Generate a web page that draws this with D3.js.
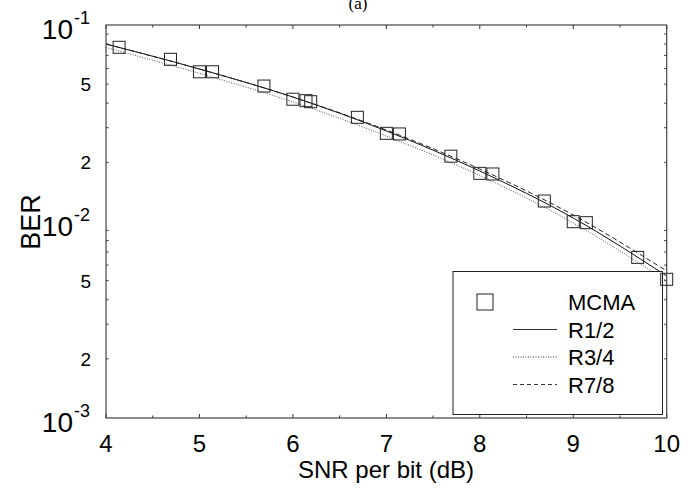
<html>
<head>
<script src="https://d3js.org/d3.v7.min.js"></script>
<style>
body { margin: 0; background: #fff; }
</style>
</head>
<body>
<script type="text/javascript">
// data
var snr = [4, 5, 6, 7, 8, 9, 10];
var berR12 = [0.0800, 0.0597, 0.0430, 0.0289, 0.01807, 0.01042, 0.00528];
var berR34 = [0.0768, 0.0567, 0.0406, 0.0272, 0.01714, 0.00983, 0.00498];
var berR78 = [0.0800, 0.0597, 0.0430, 0.0292, 0.01850, 0.01079, 0.00560];

var mcmaSnr = [4.14, 4.69, 5.0, 5.14, 5.69, 6.0, 6.14, 6.19, 6.69, 7.0, 7.14, 7.69, 8.0, 8.14, 8.69, 9.0, 9.14, 9.69, 10.0];
var mcmaBer = [0.0770, 0.0669, 0.0578, 0.0578, 0.0489, 0.0419, 0.0412, 0.0407, 0.0339, 0.0281, 0.0279, 0.0215, 0.01758, 0.01745, 0.01271, 0.00998, 0.00986, 0.00657, 0.00508];

var xTicks = [4, 5, 6, 7, 8, 9, 10];
var xMinor = [4.5, 5.5, 6.5, 7.5, 8.5, 9.5];
var yLabelTicks = [0.1, 0.05, 0.02, 0.01, 0.005, 0.002, 0.001];
var legendNames = ["MCMA", "R1/2", "R3/4", "R7/8"];

var width = 694, height = 491;
var pLeft = 106, pRight = 666.7, pTop = 25, pBottom = 418;

var svg = d3.select("body")
    .append("svg")
    .attr("width", width)
    .attr("height", height);

var x = d3.scaleLinear().domain([4, 10]).range([pLeft, pRight]);
var y = d3.scaleLog().domain([0.001, 0.1]).range([pBottom, pTop]);

var font = "'Liberation Sans', Arial, sans-serif";

// title (sits right at the top edge, as in the scan)
svg.append("text")
   .attr("x", 358)
   .attr("y", 9)
   .attr("text-anchor", "middle")
   .style("font-family", "'Liberation Serif', 'Times New Roman', serif")
   .style("font-size", "17px")
   .text("(a)");

// minor y ticks (2..9 of each decade)
var yMinor = [];
[0.001, 0.01].forEach(function(d) {
    for (var k = 2; k <= 9; k++) yMinor.push(d * k);
});

var tickColor = "#333";

// ticks on all four sides, pointing inward
xTicks.concat(xMinor).forEach(function(v) {
    var len = xTicks.indexOf(v) >= 0 ? 4 : 2.5;
    svg.append("line").attr("x1", x(v)).attr("x2", x(v))
       .attr("y1", pTop).attr("y2", pTop + len)
       .attr("stroke", tickColor).attr("stroke-width", 1);
    svg.append("line").attr("x1", x(v)).attr("x2", x(v))
       .attr("y1", pBottom).attr("y2", pBottom - len)
       .attr("stroke", tickColor).attr("stroke-width", 1);
});
yMinor.forEach(function(v) {
    svg.append("line").attr("x1", pLeft).attr("x2", pLeft + 2.5)
       .attr("y1", y(v)).attr("y2", y(v))
       .attr("stroke", tickColor).attr("stroke-width", 1);
    svg.append("line").attr("x1", pRight).attr("x2", pRight - 2.5)
       .attr("y1", y(v)).attr("y2", y(v))
       .attr("stroke", tickColor).attr("stroke-width", 1);
});

// the three code-rate curves
var lineGen = d3.line()
    .x(function(d) { return x(d[0]); })
    .y(function(d) { return y(d[1]); })
    .curve(d3.curveMonotoneX);

svg.append("path")
   .datum(d3.zip(snr, berR12))
   .attr("d", lineGen)
   .attr("fill", "none")
   .attr("stroke", "#111")
   .attr("stroke-width", 1);

svg.append("path")
   .datum(d3.zip(snr, berR34))
   .attr("d", lineGen)
   .attr("fill", "none")
   .attr("stroke", "#555")
   .attr("stroke-width", 1)
   .attr("stroke-dasharray", "1,1.5");

svg.append("path")
   .datum(d3.zip(snr, berR78))
   .attr("d", lineGen)
   .attr("fill", "none")
   .attr("stroke", "#222")
   .attr("stroke-width", 1)
   .attr("stroke-dasharray", "5,3");

// frame
svg.append("rect")
   .attr("x", pLeft)
   .attr("y", pTop)
   .attr("width", pRight - pLeft)
   .attr("height", pBottom - pTop)
   .attr("fill", "none")
   .attr("stroke", "#444")
   .attr("stroke-width", 1.2);

// legend box
var lg = svg.append("g");
lg.append("rect")
  .attr("x", 453)
  .attr("y", 271.5)
  .attr("width", 209.5)
  .attr("height", 143)
  .attr("fill", "#fff")
  .attr("stroke", "#222")
  .attr("stroke-width", 1);

lg.append("rect")
  .attr("x", 477)
  .attr("y", 294)
  .attr("width", 16)
  .attr("height", 16)
  .attr("fill", "none")
  .attr("stroke", "#222")
  .attr("stroke-width", 1);

var dashes = [null, null, "1,1.5", "4,3"];
legendNames.forEach(function(name, i) {
    var ly = 310 + i * 27.5;
    lg.append("text")
      .attr("x", 568)
      .attr("y", ly)
      .style("font-family", font)
      .style("font-size", "22px")
      .text(name);
    if (i > 0) {
        lg.append("line")
          .attr("x1", 513).attr("x2", 557)
          .attr("y1", ly - 8).attr("y2", ly - 8)
          .attr("stroke", "#333")
          .attr("stroke-width", 1)
          .attr("stroke-dasharray", dashes[i]);
    }
});

// MCMA squares
var sq = 12;
svg.selectAll(".mcma")
   .data(d3.zip(mcmaSnr, mcmaBer))
   .enter()
   .append("rect")
   .attr("class", "mcma")
   .attr("x", function(d) { return x(d[0]) - sq / 2; })
   .attr("y", function(d) { return y(d[1]) - sq / 2; })
   .attr("width", sq)
   .attr("height", sq)
   .attr("fill", "none")
   .attr("stroke", "#222")
   .attr("stroke-width", 1);

// x tick labels
xTicks.forEach(function(v) {
    svg.append("text")
       .attr("x", x(v))
       .attr("y", 452)
       .attr("text-anchor", "middle")
       .style("font-family", font)
       .style("font-size", "24px")
       .text(v);
});

// y tick labels
yLabelTicks.forEach(function(v) {
    var e = Math.round(Math.log10(v));
    if (Math.abs(Math.pow(10, e) - v) < 1e-9) {
        svg.append("text")
           .attr("x", 73)
           .attr("y", y(v) + 14)
           .attr("text-anchor", "end")
           .style("font-family", font)
           .style("font-size", "28px")
           .text("10");
        svg.append("text")
           .attr("x", 74)
           .attr("y", y(v) - 1)
           .style("font-family", font)
           .style("font-size", "18px")
           .text(String(e));
    } else {
        svg.append("text")
           .attr("x", 91)
           .attr("y", y(v) + 7)
           .attr("text-anchor", "end")
           .style("font-family", font)
           .style("font-size", "19px")
           .text(Math.round(v / Math.pow(10, Math.floor(Math.log10(v)))));
    }
});

// axis titles
svg.append("text")
   .attr("x", 386)
   .attr("y", 478)
   .attr("text-anchor", "middle")
   .style("font-family", font)
   .style("font-size", "24px")
   .text("SNR per bit (dB)");

svg.append("text")
   .attr("transform", "translate(40,222) rotate(-90)")
   .attr("text-anchor", "middle")
   .style("font-family", font)
   .style("font-size", "27px")
   .text("BER");
</script>
</body>
</html>
